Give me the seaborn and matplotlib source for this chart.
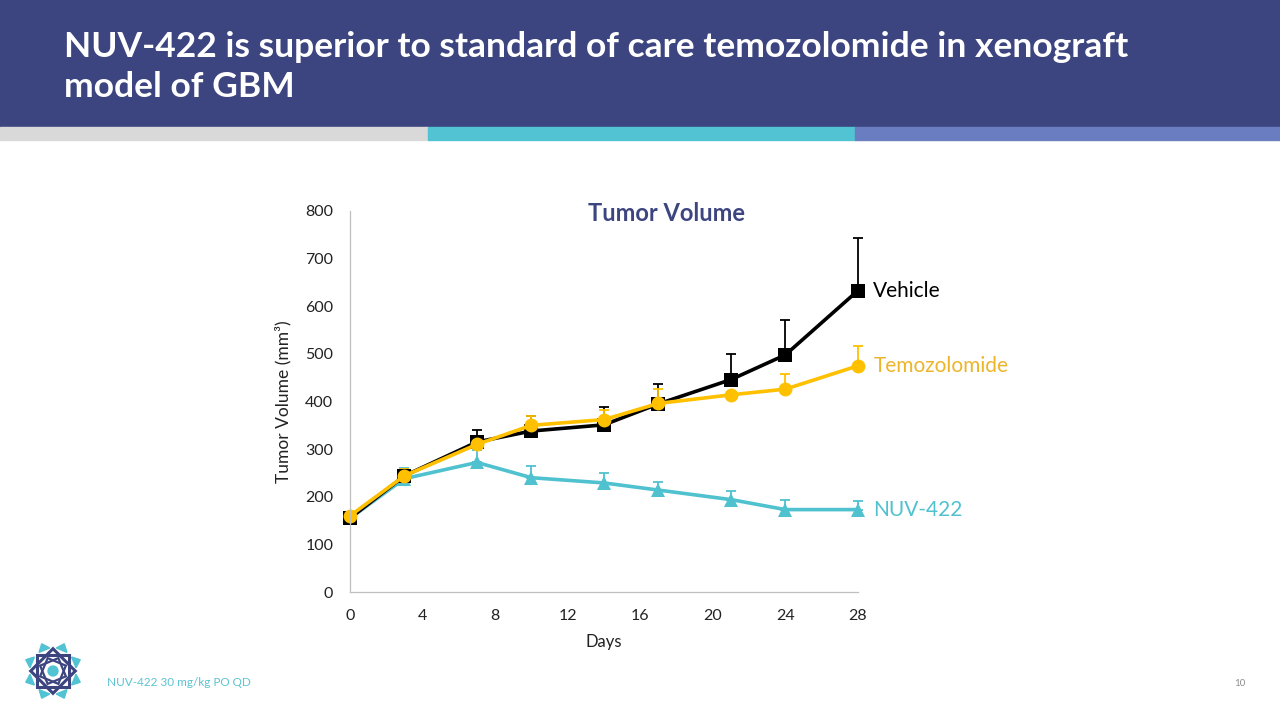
import numpy as np
import pandas as pd
import matplotlib
matplotlib.use("Agg")
import matplotlib.pyplot as plt
from matplotlib.patches import Rectangle, Polygon, Circle
import seaborn as sns

# data
days = [0, 3, 7, 10, 14, 17, 21, 24, 28]
vehicle = [155, 244, 315, 338, 351, 395, 446, 498, 633]
vehicle_err = [0, 12, 26, 32, 37, 42, 53, 74, 110]
temozolomide = [160, 244, 310, 350, 362, 396, 414, 426, 475]
temozolomide_err = [0, 14, 18, 20, 20, 30, 0, 32, 41]
nuv422 = [155, 238, 272, 240, 229, 214, 194, 173, 173]
nuv422_err = [0, 22, 26, 25, 20, 18, 18, 21, 18]

groups = ["NUV-422", "Vehicle", "Temozolomide"]
colors = {"Vehicle": "#000000", "Temozolomide": "#FFC000", "NUV-422": "#4FC1CF"}
label_colors = {"Vehicle": "#000000", "Temozolomide": "#EDB52A", "NUV-422": "#4FC1CF"}
markers = {"Vehicle": "s", "Temozolomide": "o", "NUV-422": "^"}

title = "NUV-422 is superior to standard of care temozolomide in xenograft\nmodel of GBM"
footnote = "NUV-422 30 mg/kg PO QD"

df = pd.concat([
    pd.DataFrame({"Days": days, "vol": vehicle, "err": vehicle_err, "group": "Vehicle"}),
    pd.DataFrame({"Days": days, "vol": temozolomide, "err": temozolomide_err, "group": "Temozolomide"}),
    pd.DataFrame({"Days": days, "vol": nuv422, "err": nuv422_err, "group": "NUV-422"}),
])

sns.set_style("white")
plt.rcParams["font.family"] = ["Lato", "DejaVu Sans"]

W, H = 1280, 720
fig = plt.figure(figsize=(12.8, 7.2), dpi=100)

# header band and stripe
fig.patches.append(Rectangle((0, 1 - 127 / H), 1, 127 / H, transform=fig.transFigure, color="#3D4580", zorder=0))
stripe = [(0, 428, "#D9D9D9"), (428, 855, "#52C3D3"), (855, 1280, "#6A7DC0")]
for x0, x1, c in stripe:
    fig.patches.append(Rectangle((x0 / W, 1 - 140 / H), (x1 - x0) / W, 13 / H,
                                 transform=fig.transFigure, color=c, zorder=0))
fig.text(64 / W, 1 - 31 / H, title, color="white", fontsize=25.5, fontweight="bold",
         va="top", ha="left", linespacing=1.3)

# chart
ax = fig.add_axes([350 / W, (H - 592) / H, 508 / W, 381 / H])
for g in groups:
    d = df[df.group == g]
    ax.errorbar(d.Days, d.vol, yerr=[np.zeros(len(d)), d.err], fmt="none",
                ecolor=colors[g], elinewidth=1.3, capsize=3.5, capthick=1.3, clip_on=False)
sns.lineplot(data=df, x="Days", y="vol", hue="group", style="group", hue_order=groups,
             style_order=groups, palette=colors, markers=markers, dashes=False,
             linewidth=2.6, markersize=10, markeredgewidth=0, ax=ax, legend=False)
for ln in ax.lines:
    ln.set_clip_on(False)

ax.set_xlim(0, 28)
ax.set_ylim(0, 800)
ax.set_xticks(range(0, 29, 4))
ax.set_yticks(range(0, 801, 100))
for s in ["top", "right"]:
    ax.spines[s].set_visible(False)
for s in ["left", "bottom"]:
    ax.spines[s].set_color("#BFBFBF")
    ax.spines[s].set_linewidth(0.9)
ax.tick_params(axis="both", colors="#BFBFBF", length=4, width=0.9, labelcolor="#222222",
               labelsize=11.5, pad=8)
ax.set_xlabel("Days", fontsize=12, color="#222222", labelpad=8)
ax.set_ylabel("Tumor Volume (mm³)", fontsize=12.5, color="#222222", labelpad=10)
fig.text(666 / W, 1 - 213 / H, "Tumor Volume", fontsize=17, fontweight="bold",
         color="#3D4580", ha="center", va="center")

last = {"Vehicle": vehicle[-1], "Temozolomide": temozolomide[-1], "NUV-422": nuv422[-1]}
for g, v in last.items():
    ax.annotate(g, (28, v), xytext=(11, 0), textcoords="offset points", va="center",
                ha="left", fontsize=15, color=label_colors[g], annotation_clip=False)

# footer
fig.text(107 / W, 1 - 683 / H, footnote, color="#5BC3D1", fontsize=8.5, va="center")
fig.text(1240 / W, 1 - 683 / H, "10", color="#8C8C8C", fontsize=7, va="center", ha="center")

lax = fig.add_axes([22 / W, (H - 702) / H, 62 / W, 62 / H])
lax.set_xlim(-1, 1)
lax.set_ylim(-1, 1)
lax.set_aspect("equal")
lax.axis("off")
for k in range(8):
    a = np.pi / 4 * k + np.pi / 8
    tri = [(0.95 * np.cos(a), 0.95 * np.sin(a)),
           (0.75 * np.cos(a - 0.25), 0.75 * np.sin(a - 0.25)),
           (0.75 * np.cos(a + 0.25), 0.75 * np.sin(a + 0.25))]
    lax.add_patch(Polygon(tri, color="#52C3D3"))
for rot in [0, np.pi / 4]:
    ang = rot + np.arange(4) * np.pi / 2
    lax.add_patch(Polygon(np.c_[0.72 * np.cos(ang), 0.72 * np.sin(ang)], fill=False,
                          ec="#3D4580", lw=2.2))
    lax.add_patch(Polygon(np.c_[0.45 * np.cos(ang + np.pi / 8), 0.45 * np.sin(ang + np.pi / 8)],
                          fill=False, ec="#3D4580", lw=1.6))
lax.add_patch(Circle((0, 0), 0.16, color="#52C3D3"))

fig.savefig("out.png", dpi=100)
